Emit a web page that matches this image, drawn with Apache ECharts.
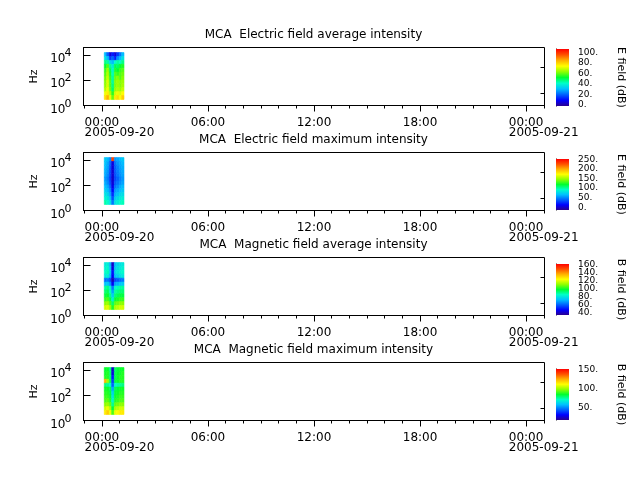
<!DOCTYPE html>
<html>
<head>
<meta charset="utf-8">
<script src="https://cdn.jsdelivr.net/npm/echarts@6/dist/echarts.min.js"></script>
<style>
  html, body { margin: 0; background: #fff; }
  #chart { width: 640px; height: 480px; }
</style>
</head>
<body>
<div id="chart"></div>
<script>
  const FONT = 'DejaVu Sans';

  // panel titles and colour bar names
  const titles = [
    'MCA  Electric field average intensity',
    'MCA  Electric field maximum intensity',
    'MCA  Magnetic field average intensity',
    'MCA  Magnetic field maximum intensity'
  ];
  const barNames = ['E field (dB)', 'E field (dB)', 'B field (dB)', 'B field (dB)'];

  // colour bar ranges and labels
  const barMin = [-2, -14, 33, 18];
  const barMax = [106, 252, 162, 152];
  const barLabels = [
    [0, 20, 40, 60, 80, 100],
    [0, 50, 100, 150, 200, 250],
    [40, 60, 80, 100, 120, 140, 160],
    [50, 100, 150]
  ];
  const barTickStep = 10;

  // time axis
  const timeMin = '2005-09-19 22:57:30';
  const timeMax = '2005-09-21 01:02:30';
  const majorTicks = ['2005-09-20 00:00', '2005-09-20 06:00', '2005-09-20 12:00', '2005-09-20 18:00', '2005-09-21 00:00'];

  // frequency axis (Hz)
  const freqMin = 1;
  const freqMax = 40000;
  const freqLabels = [1, 100, 10000];
  const freqMinorTicks = [10, 1000];

  // spectrogram cells: time edges (8 columns) and frequency edges (12 rows)
  const timeEdges = ['2005-09-20 00:08', '2005-09-20 00:16', '2005-09-20 00:25', '2005-09-20 00:33',
    '2005-09-20 00:42', '2005-09-20 00:50', '2005-09-20 00:59', '2005-09-20 01:07', '2005-09-20 01:15'];
  const freqEdges = [3, 6.2, 12.6, 25.7, 52.5, 107, 219, 447, 912, 1862, 3802, 7762, 15849];

  // rows listed from highest frequency (top) to lowest (bottom), dB
  const eAvg = [
    [30, 20, 5, 12, 5, 15, 22, 30],
    [36, 30, 15, 20, 12, 25, 30, 36],
    [46, 44, 34, 30, 40, 44, 42, 46],
    [52, 58, 45, 38, 50, 48, 52, 54],
    [56, 64, 50, 40, 54, 52, 56, 58],
    [58, 66, 54, 42, 58, 56, 58, 60],
    [60, 68, 56, 44, 60, 62, 58, 62],
    [62, 70, 58, 44, 62, 64, 62, 64],
    [63, 70, 58, 46, 62, 64, 62, 65],
    [66, 72, 60, 48, 64, 66, 64, 68],
    [72, 76, 66, 55, 70, 72, 70, 74],
    [78, 84, 72, 60, 76, 78, 74, 80]
  ];
  const eMax = [
    [70, 65, 50, 230, 55, 60, 65, 70],
    [68, 60, 40, 5, 45, 55, 60, 65],
    [65, 58, 35, 3, 40, 50, 58, 62],
    [62, 55, 32, 2, 38, 48, 55, 60],
    [60, 52, 30, 2, 35, 45, 52, 58],
    [55, 48, 28, 0, 32, 40, 48, 55],
    [60, 52, 32, 3, 38, 45, 52, 58],
    [66, 60, 40, 8, 45, 52, 60, 65],
    [72, 66, 50, 15, 55, 60, 66, 70],
    [80, 75, 58, 25, 62, 68, 75, 78],
    [88, 84, 68, 35, 72, 78, 84, 86],
    [98, 92, 78, 45, 80, 86, 92, 95]
  ];
  const bAvg = [
    [80, 82, 70, 40, 72, 76, 78, 80],
    [82, 84, 72, 42, 74, 78, 80, 82],
    [84, 86, 75, 48, 76, 80, 82, 84],
    [80, 82, 70, 45, 72, 75, 78, 80],
    [60, 62, 55, 38, 55, 58, 60, 62],
    [72, 74, 65, 45, 68, 70, 72, 74],
    [88, 90, 82, 62, 84, 86, 88, 88],
    [92, 94, 86, 68, 88, 90, 92, 92],
    [96, 98, 90, 75, 92, 94, 96, 96],
    [102, 104, 96, 82, 98, 100, 102, 102],
    [110, 112, 104, 92, 106, 108, 110, 110],
    [118, 120, 112, 100, 114, 116, 118, 118]
  ];
  const bMax = [
    [85, 86, 78, 25, 80, 84, 86, 86],
    [86, 88, 80, 28, 82, 85, 86, 88],
    [88, 88, 80, 35, 82, 86, 88, 88],
    [125, 100, 82, 40, 84, 86, 88, 88],
    [78, 76, 72, 45, 72, 74, 76, 78],
    [86, 86, 82, 55, 82, 84, 86, 86],
    [88, 88, 84, 62, 84, 86, 88, 88],
    [90, 90, 86, 66, 86, 88, 90, 90],
    [92, 94, 88, 70, 88, 90, 92, 92],
    [98, 100, 94, 76, 94, 96, 98, 98],
    [106, 110, 102, 84, 102, 104, 106, 106],
    [115, 120, 110, 92, 110, 112, 115, 115]
  ];
  const panels = [eAvg, eMax, bAvg, bMax];

  const palette = ['#2a0090', '#0000ff', '#0060ff', '#00c0ff', '#00ffc8', '#00ff30',
    '#90ff00', '#ffff00', '#ffb000', '#ff5000', '#ff0000'];

  const ts = s => new Date(s.replace(' ', 'T')).getTime();
  const pad = n => (n < 10 ? '0' : '') + n;

  // hourly minor ticks
  const hourTicks = [];
  for (let t = ts('2005-09-19 23:00'); t <= ts(timeMax); t += 3600000) hourTicks.push(t);

  function cellData(rows) {
    const out = [];
    const n = rows.length;
    rows.forEach((row, r) => {
      row.forEach((v, c) => {
        out.push([ts(timeEdges[c]), ts(timeEdges[c + 1]), freqEdges[n - 1 - r], freqEdges[n - r], v]);
      });
    });
    return out;
  }

  function renderCell(params, api) {
    const p0 = api.coord([api.value(0), api.value(3)]);
    const p1 = api.coord([api.value(1), api.value(2)]);
    const color = api.visual('color');
    return {
      type: 'rect',
      shape: { x: p0[0], y: p0[1], width: p1[0] - p0[0], height: p1[1] - p0[1] },
      style: { fill: color, stroke: color, lineWidth: 0.6 }
    };
  }

  function renderBar(params, api) {
    const p0 = api.coord([api.value(0), api.value(3)]);
    const p1 = api.coord([api.value(1), api.value(2)]);
    const stops = palette.map((c, k) => ({ offset: k / (palette.length - 1), color: c }));
    return {
      type: 'rect',
      shape: { x: p0[0], y: p0[1], width: p1[0] - p0[0], height: p1[1] - p0[1] },
      style: { fill: new echarts.graphic.LinearGradient(0, 1, 0, 0, stops) }
    };
  }

  function timeLabel(value) {
    const d = new Date(value);
    const hm = pad(d.getHours()) + ':' + pad(d.getMinutes());
    if (d.getHours() === 0) {
      const date = d.getFullYear() + '-' + pad(d.getMonth() + 1) + '-' + pad(d.getDate());
      return '{t|' + hm + '}\n{d|' + date + '}';
    }
    return '{t|' + hm + '}';
  }

  // 10^n : exponent on its own line, right of the base
  function powLabel(v) {
    return '{s|' + Math.round(Math.log10(v)) + '}\n{b|10}{g|}';
  }

  const txt = { fontFamily: FONT, color: '#000' };
  const grids = [], xAxes = [], yAxes = [], series = [], visualMaps = [], titleList = [];

  for (let i = 0; i < 4; i++) {
    const top = 47.5 + 105 * i;
    titleList.push({
      text: titles[i], left: 313.5, top: 28.5 + 105 * i, textAlign: 'center', padding: 0,
      textStyle: Object.assign({ fontSize: 12, fontWeight: 'normal' }, txt)
    });
    grids.push({ left: 83.5, right: 95.5, top: top, height: 58, show: true,
      borderColor: '#000', borderWidth: 1, backgroundColor: 'transparent' });
    const cbTop = i === 0 ? 49 : 159 + 105 * (i - 1);
    const cbHeight = i === 0 ? 57 : 51;
    grids.push({ left: 556, width: 13, top: cbTop, height: cbHeight });

    // plot axes (time stored as epoch ms on a value axis)
    xAxes.push({
      type: 'value', gridIndex: 2 * i, min: ts(timeMin), max: ts(timeMax), position: 'bottom',
      axisLine: { lineStyle: { color: '#000', width: 1 } },
      axisTick: { length: 3, customValues: hourTicks, lineStyle: { color: '#000' } },
      axisLabel: {
        customValues: majorTicks.map(ts), formatter: timeLabel, margin: 12,
        rich: {
          t: Object.assign({ fontSize: 12, lineHeight: 10 }, txt),
          d: Object.assign({ fontSize: 12, lineHeight: 11, width: 34, align: 'left' }, txt)
        }
      },
      splitLine: { show: false }
    });
    xAxes.push({
      type: 'value', gridIndex: 2 * i, min: ts(timeMin), max: ts(timeMax), position: 'bottom',
      axisLine: { show: false },
      axisTick: { length: 6, customValues: majorTicks.map(ts), lineStyle: { color: '#000' } },
      axisLabel: { show: false }, splitLine: { show: false }
    });
    xAxes.push({ type: 'value', gridIndex: 2 * i + 1, min: 0, max: 1, show: false });

    yAxes.push({
      type: 'log', logBase: 10, gridIndex: 2 * i, min: freqMin, max: freqMax,
      name: 'Hz', nameLocation: 'middle', nameGap: 40,
      nameTextStyle: Object.assign({ fontSize: 11 }, txt),
      axisLine: { lineStyle: { color: '#000', width: 1 } },
      axisTick: { inside: true, length: 7, customValues: freqLabels, lineStyle: { color: '#000' } },
      axisLabel: {
        customValues: freqLabels, margin: 12, showMinLabel: true, showMaxLabel: true,
        formatter: powLabel,
        rich: {
          s: Object.assign({ fontSize: 11, lineHeight: 8 }, txt),
          b: Object.assign({ fontSize: 12, lineHeight: 3.5 }, txt),
          g: { width: 6, lineHeight: 3.5, fontSize: 12 }
        }
      },
      splitLine: { show: false }
    });
    yAxes.push({
      type: 'log', logBase: 10, gridIndex: 2 * i, min: freqMin, max: freqMax,
      axisLine: { show: false },
      axisTick: { inside: true, length: 4, customValues: freqMinorTicks, lineStyle: { color: '#000' } },
      axisLabel: { show: false }, splitLine: { show: false }
    });

    // colour bar axes: labels split over two overlaid axes so crowded ones all stay
    const cbTicks = [];
    for (let v = Math.ceil(barMin[i] / barTickStep) * barTickStep; v <= barMax[i]; v += barTickStep) cbTicks.push(v);
    const cbLabel = {
      formatter: v => v + '.', fontSize: 9, lineHeight: 7, margin: 9,
      showMinLabel: true, showMaxLabel: true, hideOverlap: false, fontFamily: FONT, color: '#000'
    };
    yAxes.push({
      type: 'value', gridIndex: 2 * i + 1, min: barMin[i], max: barMax[i], position: 'right',
      name: barNames[i], nameLocation: 'middle', nameRotate: -90, nameGap: 46,
      nameTextStyle: Object.assign({ fontSize: 11 }, txt),
      axisLine: { show: true, lineStyle: { color: '#000', width: 1 } },
      axisTick: { show: true, length: 3, customValues: cbTicks, lineStyle: { color: '#000' } },
      axisLabel: Object.assign({ customValues: barLabels[i].filter((v, k) => k % 2 === 0) }, cbLabel),
      splitLine: { show: false }
    });
    yAxes.push({
      type: 'value', gridIndex: 2 * i + 1, min: barMin[i], max: barMax[i], position: 'right',
      axisLine: { show: false }, axisTick: { show: false },
      axisLabel: Object.assign({ customValues: barLabels[i].filter((v, k) => k % 2 === 1) }, cbLabel),
      splitLine: { show: false }
    });

    series.push({
      type: 'custom', xAxisIndex: 3 * i, yAxisIndex: 4 * i, clip: true,
      encode: { x: [0, 1], y: [2, 3] },
      renderItem: renderCell, data: cellData(panels[i])
    });
    series.push({
      type: 'custom', xAxisIndex: 3 * i + 2, yAxisIndex: 4 * i + 2,
      encode: { x: [0, 1], y: [2, 3] },
      renderItem: renderBar, data: [[0, 1, barMin[i], barMax[i]]]
    });
    visualMaps.push({
      type: 'continuous', show: false, seriesIndex: 2 * i, dimension: 4,
      min: barMin[i], max: barMax[i], inRange: { color: palette }
    });
  }

  const chart = echarts.init(document.getElementById('chart'));
  chart.setOption({
    animation: false,
    backgroundColor: '#fff',
    title: titleList,
    grid: grids,
    xAxis: xAxes,
    yAxis: yAxes,
    visualMap: visualMaps,
    series: series
  });
</script>
</body>
</html>
